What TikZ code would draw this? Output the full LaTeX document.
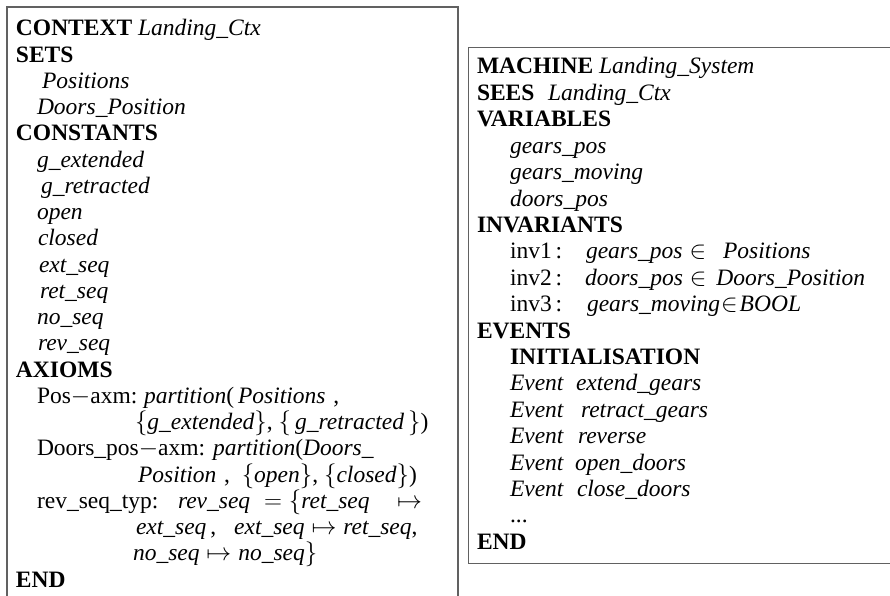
\documentclass[tikz,border=0pt]{standalone}
\usepackage{fontspec}
\setmainfont{Liberation Serif}
\definecolor{boxgray}{gray}{0.38}
\tikzset{
  ln/.style={anchor=base west, inner sep=0pt, outer sep=0pt, font=\fontsize{23.5}{26.3}\selectfont},
  frame/.style={draw=boxgray, line width=1.3pt},
}
\begin{document}
\begin{tikzpicture}[x=1pt,y=-1pt]
\useasboundingbox (0,0) rectangle (890,596);
\clip (0,0) rectangle (890,596);
% frames
\draw[frame] (7,605) -- (7,7) -- (458,7) -- (458,605);
\draw[frame] (900,47.5) -- (468.5,47.5) -- (468.5,563.5) -- (900,563.5);
% context
\node[ln] (c0) at (16,36.0) {\textbf{CONTEXT} \textit{Landing\_Ctx}};
\node[ln] (c1) at (16,62.2) {\textbf{SETS}};
\node[ln] (c2) at (42,88.5) {\textit{Positions}};
\node[ln] (c3) at (37,114.7) {\textit{Doors\_Position}};
\node[ln] (c4) at (16,141.0) {\textbf{CONSTANTS}};
\node[ln] (c5) at (37,167.2) {\textit{g\_extended}};
\node[ln] (c6) at (41,193.4) {\textit{g\_retracted}};
\node[ln] (c7) at (37,219.7) {\textit{open}};
\node[ln] (c8) at (38,245.9) {\textit{closed}};
\node[ln] (c9) at (39,272.2) {\textit{ext\_seq}};
\node[ln] (c10) at (40,298.4) {\textit{ret\_seq}};
\node[ln] (c11) at (37,324.6) {\textit{no\_seq}};
\node[ln] (c12) at (38,350.9) {\textit{rev\_seq}};
\node[ln] (c13) at (16,377.1) {\textbf{AXIOMS}};
\node[ln] (a1l) at (37,403.4) {Pos$-$axm:};
\node[ln] (a1r) at (144,403.4) {\textit{partition}(\,\textit{Positions}\,\,,};
\node[ln] (a1c) at (135,429.6) {$\{\textit{g\_extended}\}$, $\{\,\textit{g\_retracted}\,\}$)};
\node[ln] (a2l) at (37,455.8) {Doors\_pos$-$axm:};
\node[ln] (a2r) at (213,455.8) {\textit{partition}(\textit{Doors\_}};
\node[ln] (a2c) at (138,482.1) {\textit{Position}\,\,, \ $\{\textit{open}\}$, $\{\textit{closed}\}$)};
\node[ln] (a3l) at (37,508.3) {rev\_seq\_typ:};
\node[ln] (a3r) at (178,508.3) {$\textit{rev\_seq}\;=\{\textit{ret\_seq}\;\;\;\mapsto$};
\node[ln] (a3c) at (136,534.6) {\textit{ext\_seq}\,, \hspace{12pt}$\textit{ext\_seq}\mapsto\textit{ret\_seq}$,};
\node[ln] (a3d) at (133,560.8) {$\textit{no\_seq}\mapsto\textit{no\_seq}\}$};
\node[ln] (c21) at (16,587.0) {\textbf{END}};
% machine
\node[ln] (m0) at (477,74) {\textbf{MACHINE} \textit{Landing\_System}};
\node[ln] (m1) at (477,100.4) {\textbf{SEES}};
\node[ln] (m1r) at (548,100.4) {\textit{Landing\_Ctx}};
\node[ln] (m2) at (477,126.8) {\textbf{VARIABLES}};
\node[ln] (m3) at (510,153.2) {\textit{gears\_pos}};
\node[ln] (m4) at (510,179.6) {\textit{gears\_moving}};
\node[ln] (m5) at (510,206) {\textit{doors\_pos}};
\node[ln] (m6) at (477,232.4) {\textbf{INVARIANTS}};
\node[ln] (m7) at (510,258.8) {inv1\,:};
\node[ln] (m7r) at (586,258.8) {$\textit{gears\_pos}\in\ \,\textit{Positions}$};
\node[ln] (m8) at (510,285.2) {inv2\,:};
\node[ln] (m8r) at (585,285.2) {$\textit{doors\_pos}\in\hspace{3pt}\textit{Doors\_Position}$};
\node[ln] (m9) at (510,311.6) {inv3\,:};
\node[ln] (m9r) at (587,311.6) {$\textit{gears\_moving}\hspace{1pt}{\in}\hspace{2pt}\textit{BOOL}$};
\node[ln] (m10) at (477,338) {\textbf{EVENTS}};
\node[ln] (m11) at (510,364.4) {\textbf{INITIALISATION}};
\node[ln] (m12) at (510,390.8) {\textit{Event}};
\node[ln] (m12r) at (576,390.8) {\textit{extend\_gears}};
\node[ln] (m13) at (510,417.2) {\textit{Event}};
\node[ln] (m13r) at (581,417.2) {\textit{retract\_gears}};
\node[ln] (m14) at (510,443.6) {\textit{Event}};
\node[ln] (m14r) at (578,443.6) {\textit{reverse}};
\node[ln] (m15) at (510,470) {\textit{Event}};
\node[ln] (m15r) at (575,470) {\textit{open\_doors}};
\node[ln] (m16) at (510,496.4) {\textit{Event}};
\node[ln] (m16r) at (577,496.4) {\textit{close\_doors}};
\node[ln] (m17) at (510,522.8) {...};
\node[ln] (m18) at (477,549.2) {\textbf{END}};
\end{tikzpicture}
\end{document}
